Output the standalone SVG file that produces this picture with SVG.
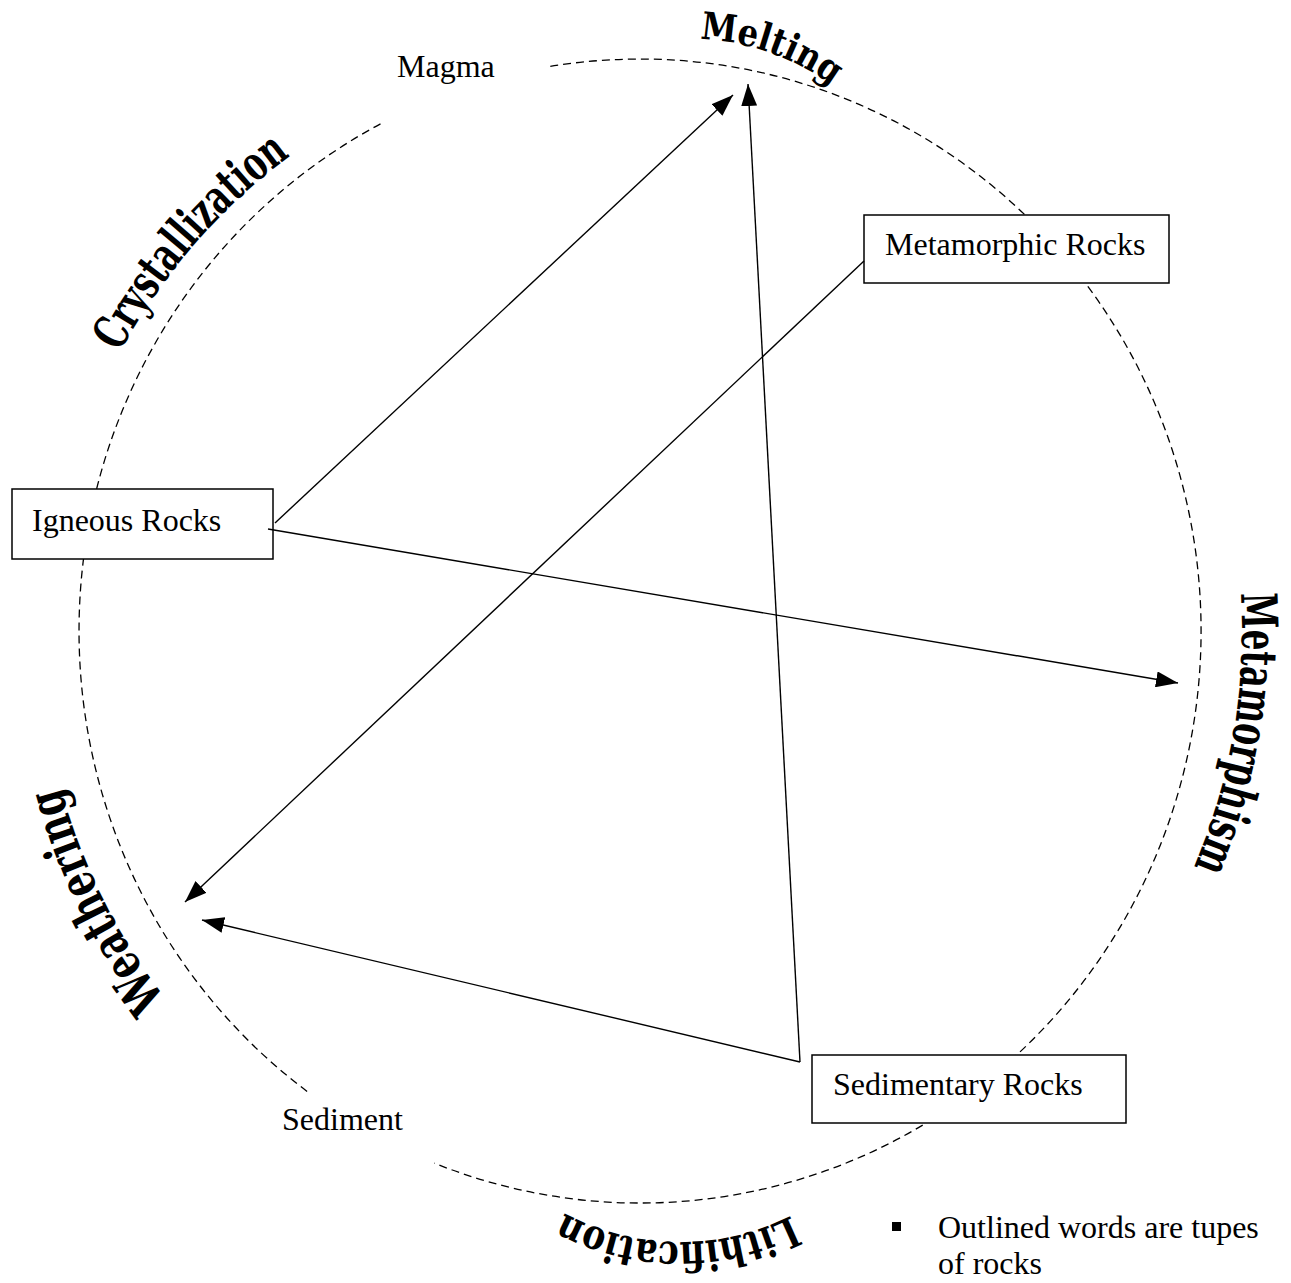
<svg xmlns="http://www.w3.org/2000/svg" width="1291" height="1283" viewBox="0 0 1291 1283">
<style>
.circ{fill:none;stroke:#000;stroke-width:1.3;stroke-dasharray:8 5}
.box{fill:#fff;stroke:#000;stroke-width:1.5}
.lbl{font-family:"Liberation Serif","Times New Roman",serif;font-size:32px;fill:#000}
.arc{font-family:"DejaVu Serif",serif;font-weight:bold;fill:#000}
.conn line{stroke:#000;stroke-width:1.4;marker-end:url(#ah)}
</style>
<defs>
<marker id="ah" markerUnits="userSpaceOnUse" markerWidth="22" markerHeight="16" refX="22" refY="8" orient="auto" viewBox="0 0 22 16"><path d="M0,0 L22,8 L0,16 z" fill="#000"/></marker>
<path id="p-melting" d="M700.05,39.21 A240,240 0 0 1 915.5,196.9"/>
<path id="p-cryst" d="M120,352.2 A590,590 0 0 1 588.6,43.2"/>
<path id="p-meta" d="M1240.8,593.2 A602,602 0 0 1 1101.2,1018"/>
<path id="p-weath" d="M165.9,998.7 A600,600 0 0 1 76.2,425.8"/>
<path id="p-lith" d="M791.2,1215.3 A245,245 0 0 1 467.8,1119.5"/>
</defs>
<rect width="1291" height="1283" fill="#fff"/>
<g id="cycle">
<path class="circ" d="M550.3,66.4 A561,572 0 1 1 434.4,1163.2"/>
<path class="circ" d="M307.1,1091.4 A561,572 0 0 1 384.5,121.8"/>
</g>
<g id="process-labels">
<g id="label-melting"><text class="arc" font-size="38"><textPath href="#p-melting" textLength="142" lengthAdjust="spacingAndGlyphs">Melting</textPath></text></g>
<g id="label-crystallization"><text class="arc" font-size="48"><textPath href="#p-cryst" textLength="262" lengthAdjust="spacingAndGlyphs">Crystallization</textPath></text></g>
<g id="label-metamorphism"><text class="arc" font-size="50"><textPath href="#p-meta" textLength="280" lengthAdjust="spacingAndGlyphs">Metamorphism</textPath></text></g>
<g id="label-weathering"><text class="arc" font-size="50"><textPath href="#p-weath" textLength="238" lengthAdjust="spacingAndGlyphs">Weathering</textPath></text></g>
<g id="label-lithification"><text class="arc" font-size="42"><textPath href="#p-lith" textLength="236" lengthAdjust="spacingAndGlyphs">Lithification</textPath></text></g>
</g>
<g id="node-magma"><text class="lbl" x="397" y="77">Magma</text></g>
<g id="node-sediment"><text class="lbl" x="282" y="1130">Sediment</text></g>
<g id="node-igneous"><rect class="box" x="12" y="489" width="261" height="70"/><text class="lbl" x="32" y="531">Igneous Rocks</text></g>
<g id="node-metamorphic"><rect class="box" x="864" y="215" width="305" height="68"/><text class="lbl" x="885" y="255">Metamorphic Rocks</text></g>
<g id="node-sedimentary"><rect class="box" x="812" y="1055" width="314" height="68"/><text class="lbl" x="833" y="1095">Sedimentary Rocks</text></g>
<g id="connectors" class="conn">
<line x1="275" y1="523" x2="733" y2="95"/>
<line x1="800" y1="1062" x2="748" y2="84"/>
<line x1="800" y1="1062" x2="202" y2="920"/>
<line x1="864" y1="261" x2="185" y2="902"/>
<line x1="268" y1="529" x2="1178" y2="683"/>
</g>
<g id="note">
<rect x="892" y="1222" width="9" height="9" fill="#000"/>
<text class="lbl" x="938" y="1238">Outlined words are tupes</text>
<text class="lbl" x="938" y="1274">of rocks</text>
</g>
</svg>
